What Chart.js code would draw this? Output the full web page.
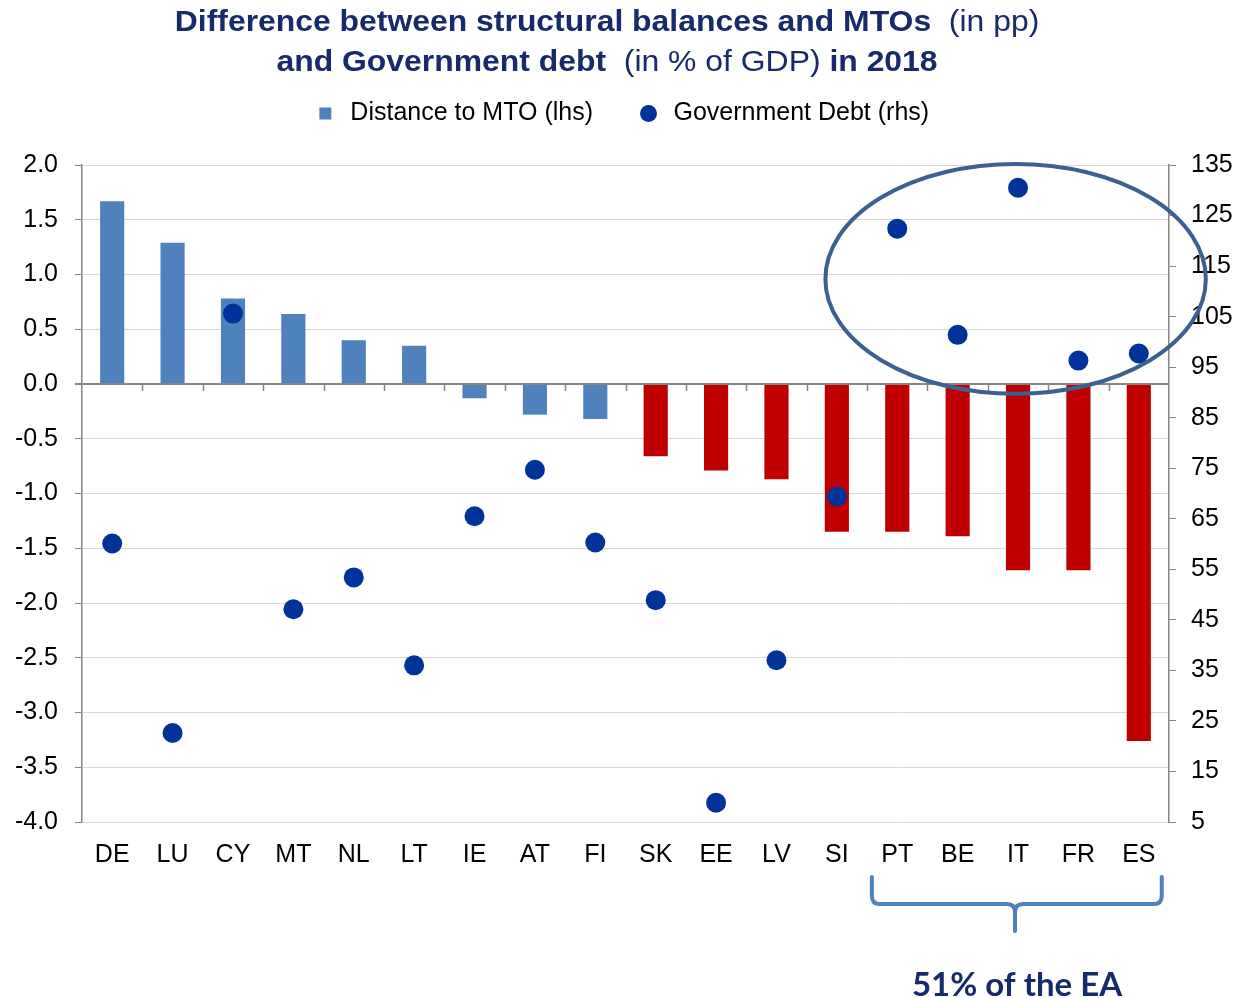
<!DOCTYPE html>
<html>
<head>
<meta charset="utf-8">
<script src="https://cdn.jsdelivr.net/npm/chart.js@4.4.1/dist/chart.umd.min.js"></script>
<style>
  html, body { margin:0; padding:0; background:#fff; }
  #wrap { width:1242px; height:998px; position:relative; }
</style>
</head>
<body>
<div id="wrap"><canvas id="chart"></canvas></div>
<script>
// Distance to MTO (lhs, pp) and government debt (rhs, % of GDP), 2018
const countries     = ['DE','LU','CY','MT','NL','LT','IE','AT','FI','SK','EE','LV','SI','PT','BE','IT','FR','ES'];
const distanceToMTO = [1.67, 1.29, 0.78, 0.64, 0.40, 0.35, -0.13, -0.28, -0.32, -0.66, -0.79, -0.87, -1.35, -1.35, -1.39, -1.70, -1.70, -3.26];
const govDebt       = [60.1, 22.6, 105.6, 47.1, 53.4, 36.0, 65.5, 74.7, 60.3, 48.9, 8.8, 37.0, 69.4, 122.4, 101.4, 130.5, 96.3, 97.7];
const bigFive       = ['PT','BE','IT','FR','ES'];   // the "51% of the EA" group
const firstRed      = 'SK';

const titleLines = [
  [['Difference between structural balances and MTOs', true], ['  (in pp)', false]],
  [['and Government debt', true], ['  (in % of GDP) ', false], ['in 2018', true]]
];
const groupLabel = '51% of the EA';

const BLUE = '#4f81bd', RED = '#c00000', DOT = '#003399', NAVY = '#172a6b', AXIS = '#868686';
const FONT = '"Liberation Sans", Arial, sans-serif';

const redIdx = countries.indexOf(firstRed);
const barColors = countries.map((c, i) => i >= redIdx ? RED : BLUE);

const overlay = {
  id: 'overlay',
  beforeInit(chart) {
    // leave extra room between legend and plot
    const lg = chart.legend;
    if (lg) { const fit = lg.fit; lg.fit = function () { fit.call(this); this.height += 29; }; }
  },
  beforeDraw(chart) {
    const { ctx, width, height } = chart;
    ctx.save(); ctx.fillStyle = '#fff'; ctx.fillRect(0, 0, width, height); ctx.restore();
  },
  beforeDatasetsDraw(chart) {
    // little tick marks hanging under the zero line, between categories
    const { ctx, chartArea: a, scales: { y } } = chart;
    const y0 = y.getPixelForValue(0);
    const w = (a.right - a.left) / countries.length;
    ctx.save();
    ctx.strokeStyle = AXIS; ctx.lineWidth = 1.5;
    for (let i = 1; i < countries.length; i++) {
      const px = Math.round(a.left + i * w) + 0.5;
      ctx.beginPath(); ctx.moveTo(px, y0); ctx.lineTo(px, y0 + 7); ctx.stroke();
    }
    ctx.restore();
  },
  afterDatasetsDraw(chart) {
    const { ctx, chartArea: a, scales: { x, y } } = chart;
    // title with mixed weights (slightly widened like the original)
    ctx.save();
    ctx.fillStyle = NAVY; ctx.textBaseline = 'alphabetic';
    const baselines = [31, 71], sx = 1.1;
    titleLines.forEach((runs, li) => {
      const fonts = runs.map(r => (r[1] ? 'bold ' : '') + '29px ' + FONT);
      const widths = runs.map((r, k) => { ctx.font = fonts[k]; return ctx.measureText(r[0]).width; });
      const total = widths.reduce((s, v) => s + v, 0) * sx;
      ctx.save();
      ctx.translate(607 - total / 2, baselines[li]);
      ctx.scale(sx, 1);
      let cx = 0;
      runs.forEach((r, k) => { ctx.font = fonts[k]; ctx.fillText(r[0], cx, 0); cx += widths[k]; });
      ctx.restore();
    });

    // ellipse around the high-debt group
    const step = x.getPixelForValue(1) - x.getPixelForValue(0);
    const cx = x.getPixelForValue(countries.indexOf('IT')) - 0.04 * step;
    const cy = y.getPixelForValue(0.96);
    const rx = 3.15 * step;
    const ry = y.getPixelForValue(0) - y.getPixelForValue(1.05);
    ctx.strokeStyle = '#3c6190'; ctx.lineWidth = 4;
    ctx.beginPath(); ctx.ellipse(cx, cy, rx, ry, 0, 0, Math.PI * 2); ctx.stroke();

    // brace under PT..ES
    const lx = x.getPixelForValue(countries.indexOf(bigFive[0])) - 0.42 * step;
    const rxp = x.getPixelForValue(countries.indexOf(bigFive[bigFive.length - 1])) + 0.38 * step;
    const mx = x.getPixelForValue(countries.indexOf('IT')) - 0.05 * step;
    const b = a.bottom;
    const t = b + 55, h = b + 82, tip = b + 109, r = 8;
    ctx.strokeStyle = BLUE; ctx.lineWidth = 4; ctx.lineCap = 'round'; ctx.lineJoin = 'round';
    ctx.beginPath();
    ctx.moveTo(lx, t); ctx.lineTo(lx, h - r); ctx.quadraticCurveTo(lx, h, lx + r, h);
    ctx.lineTo(mx - r, h); ctx.quadraticCurveTo(mx, h, mx, h + r); ctx.lineTo(mx, tip);
    ctx.moveTo(mx, h + r); ctx.quadraticCurveTo(mx, h, mx + r, h);
    ctx.lineTo(rxp - r, h); ctx.quadraticCurveTo(rxp, h, rxp, h - r); ctx.lineTo(rxp, t);
    ctx.stroke();

    ctx.fillStyle = NAVY; ctx.font = 'bold 33px Lato, "Open Sans", sans-serif';
    ctx.textAlign = 'center';
    ctx.fillText(groupLabel, mx + 2, b + 174);
    ctx.restore();
  }
};

new Chart(document.getElementById('chart'), {
  data: {
    labels: countries,
    datasets: [
      {
        type: 'bar', label: 'Distance to MTO (lhs)', data: distanceToMTO, yAxisID: 'y',
        backgroundColor: barColors, borderWidth: 0, pointStyle: 'rect',
        barPercentage: 0.8, categoryPercentage: 0.5, order: 1
      },
      {
        type: 'line', label: 'Government Debt (rhs)', data: govDebt, yAxisID: 'y1',
        showLine: false, pointStyle: 'circle', pointRadius: 10, pointHoverRadius: 10,
        pointBackgroundColor: DOT, pointBorderColor: DOT, pointBorderWidth: 0,
        backgroundColor: DOT, borderColor: DOT, order: 0
      }
    ]
  },
  options: {
    responsive: true, maintainAspectRatio: false, animation: false,
    layout: { padding: { top: 58, left: 10, right: 10, bottom: 116 } },
    plugins: {
      title: { display: false },
      tooltip: { enabled: false },
      legend: {
        position: 'top',
        labels: {
          usePointStyle: true, boxHeight: 12, padding: 43, color: '#000',
          font: { family: FONT, size: 25 },
          sort: (a, b) => a.datasetIndex - b.datasetIndex
        }
      }
    },
    scales: {
      x: {
        grid: { display: false, drawTicks: false }, border: { display: false },
        ticks: { color: '#000', font: { family: FONT, size: 25 }, padding: 18, maxRotation: 0, autoSkip: false },
        afterFit: s => { s.height = 60; }
      },
      y: {
        position: 'left', min: -4, max: 2,
        border: { color: AXIS, width: 1.5 },
        grid: {
          color: c => Math.abs(c.tick.value) < 1e-9 ? AXIS : '#d9d9d9',
          lineWidth: c => Math.abs(c.tick.value) < 1e-9 ? 2 : 1,
          tickColor: AXIS, tickLength: 7
        },
        ticks: { stepSize: 0.5, color: '#000', font: { family: FONT, size: 25 }, padding: 17, callback: v => v.toFixed(1) },
        afterFit: s => { s.width = 72; }
      },
      y1: {
        position: 'right', min: 5, max: 135,
        border: { color: AXIS, width: 1.5 },
        grid: { drawOnChartArea: false, tickColor: AXIS, tickLength: 7 },
        ticks: { stepSize: 10, color: '#000', font: { family: FONT, size: 25 }, padding: 15 },
        afterFit: s => { s.width = 63; }
      }
    }
  },
  plugins: [overlay]
});
</script>
</body>
</html>
